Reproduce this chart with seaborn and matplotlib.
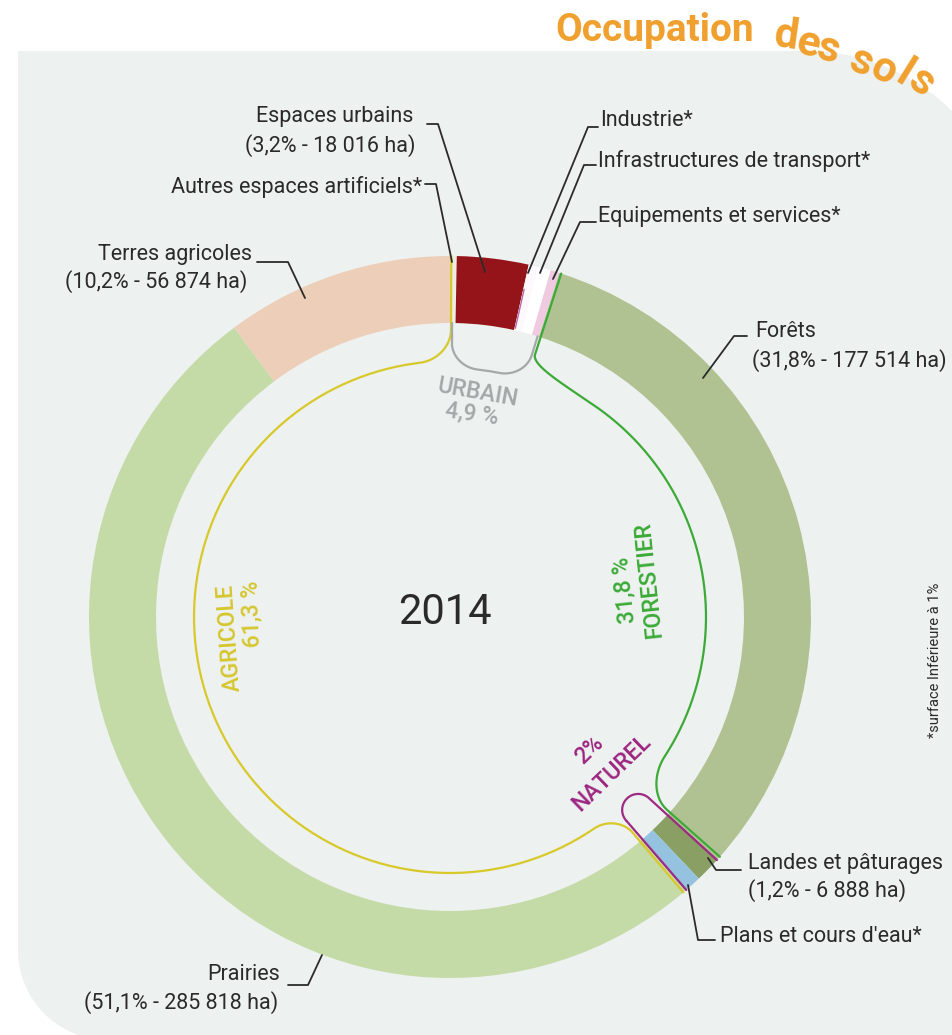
import numpy as np
import matplotlib.pyplot as plt
import seaborn as sns

# Land use values (% of area), clockwise from the top
categories = [
    "Autres espaces artificiels", "Espaces urbains", "Industrie",
    "Infrastructures de transport", "Equipements et services", "Forêts",
    "Landes et pâturages", "Plans et cours d'eau", "Prairies", "Terres agricoles",
]
shares = [0.3, 3.2, 0.4, 0.6, 0.4, 31.8, 1.2, 0.8, 51.1, 10.2]
colors = ["#EEEDE2", "#951419", "#FDF8FC", "#FFFFFF", "#F0CAE0", "#B1C292",
          "#8A9F63", "#95C3DF", "#C5DBA7", "#EDCEB9"]

sns.set_theme(style="white")
plt.rcParams["font.family"] = ["Roboto", "DejaVu Sans"]

W, H = 953, 1035
fig = plt.figure(figsize=(W / 100, H / 100), dpi=100)
ax = fig.add_axes([0, 0, 1, 1])


def P(x, y):
    # image pixel -> data coords
    return x, H - y


# background panel with rounded corners
t1 = np.radians(np.linspace(90, 0, 60))
t2 = np.radians(np.linspace(270, 180, 60))
px = [18, 807] + list(807 + 205 * np.cos(t1)) + [1012, 108] + list(108 + 90 * np.cos(t2)) + [18]
py = [984, 984] + list(779 + 205 * np.sin(t1)) + [-5, -5] + list(85 + 90 * np.sin(t2)) + [984]
ax.fill(px, py, color="#EDF1F0", lw=0, zorder=0)

CX, CY = 450, 418
R_OUT, R_IN = 361, 294
ax.pie(shares, colors=sns.color_palette(colors), startangle=90, counterclock=False,
       radius=R_OUT, center=(CX, CY),
       wedgeprops=dict(width=R_OUT - R_IN, linewidth=0))

cum = np.concatenate([[0], np.cumsum(shares)]) / np.sum(shares)
bound = 90 - 360 * cum  # boundary angles


def pol(th, r):
    th = np.radians(th)
    return CX + r * np.cos(th), CY + r * np.sin(th)


def seg(ths, rs):
    return list(zip(*pol(np.asarray(ths, float), np.asarray(rs, float))))


def radial(th, r0, r1):
    return seg([th, th], [r0, r1])


def arc(r, th0, th1):
    return seg(np.linspace(th0, th1, 200), np.full(200, r))


def corner(th0, r0, th1, r1):
    # radial at start, tangential at end
    t = np.linspace(0, 1, 40)
    return seg(th0 + (th1 - th0) * (1 - np.cos(t * np.pi / 2)),
               r0 + (r1 - r0) * np.sin(t * np.pi / 2))


def corner_r(th0, r0, th1, r1):
    return corner(th1, r1, th0, r0)[::-1]


def draw(pts, c, lw=1.6):
    xs, ys = zip(*pts)
    ax.plot(xs, ys, color=c, lw=lw, solid_capstyle="round", zorder=4)


# thin purple edge of the Industrie slice
draw(radial(bound[2] - 0.15, R_IN + 2, R_OUT - 25), "#B46AA8", lw=1.0)

# AGRICOLE bracket
a0, a1 = bound[8] - 0.4, bound[10] - 0.2
draw(radial(a0, R_OUT, 283) + corner(a0, 283, a0 - 6, 256) + arc(256, a0 - 6, a1 + 7)
     + corner_r(a1 + 7, 256, a1, 287) + radial(a1, 287, R_OUT), "#D8C92B")

# FORESTIER bracket
f0, f1 = bound[5] - 0.3, bound[6] + 0.5
draw(radial(f0, R_OUT, 276) + corner(f0, 276, 56, 256) + arc(256, 56, -33)
     + corner_r(-33, 256, f1, 290) + radial(f1, 290, R_OUT), "#3DAA38")

# URBAIN bracket
u0, u1 = bound[0] - 0.4, bound[5] + 0.3
draw(radial(u0, R_IN, 274) + corner(u0, 274, u0 - 6, 249) + arc(249, u0 - 6, u1 + 6)
     + corner_r(u1 + 6, 249, u1, 274) + radial(u1, 274, R_IN), "#A4A9A9")

# NATUREL bracket (rounded tip)
n0, n1 = bound[6] - 0.2, bound[8] + 0.2
pa, pb = np.array(pol(n0, 270)), np.array(pol(n1, 270))
c = (pa + pb) / 2
rad = np.linalg.norm(pa - pb) / 2
u = (pa - c) / rad
nv = (np.array([CX, CY]) - c) / np.linalg.norm(np.array([CX, CY]) - c)
phi = np.linspace(0, np.pi, 60)
tip = [tuple(c + rad * (u * np.cos(p) + nv * np.sin(p))) for p in phi]
draw(radial(n0, R_OUT, 270) + tip + radial(n1, 270, R_OUT), "#9E2A82")

# leader lines (image coords)
leaders = [
    [(427, 124), (438, 124), (485, 272)],
    [(425, 184), (436, 184), (452, 262)],
    [(598, 127), (588, 127), (528, 273)],
    [(596, 165), (584, 165), (540, 273)],
    [(596, 222), (580, 222), (553, 279)],
    [(257, 262), (288, 262), (305, 298)],
    [(747, 336), (734, 336), (703, 378)],
    [(741, 870), (716, 870), (708, 858)],
    [(715, 940), (698, 940), (688, 885)],
    [(288, 985), (308, 985), (322, 955)],
]
for pts in leaders:
    xs, ys = zip(*[P(*p) for p in pts])
    ax.plot(xs, ys, color="#2B2B2B", lw=1.3, zorder=5)

tc = "#2A2A2A"
fs = 15.5
labels = [
    ("Espaces urbains", 335, 116, "center"),
    ("(3,2% - 18 016 ha)", 330, 146, "center"),
    ("Autres espaces artificiels*", 297, 187, "center"),
    ("Terres agricoles", 175, 254, "center"),
    ("(10,2% - 56 874 ha)", 156, 282, "center"),
    ("Industrie*", 600, 120, "left"),
    ("Infrastructures de transport*", 598, 161, "left"),
    ("Equipements et services*", 598, 216, "left"),
    ("Forêts", 755, 331, "left"),
    ("(31,8% - 177 514 ha)", 752, 361, "left"),
    ("Landes et pâturages", 748, 864, "left"),
    ("(1,2% - 6 888 ha)", 748, 891, "left"),
    ("Plans et cours d'eau*", 720, 937, "left"),
    ("Prairies", 280, 975, "right"),
    ("(51,1% - 285 818 ha)", 278, 1003, "right"),
]
for txt, x, y, ha in labels:
    ax.text(*P(x, y), txt, ha=ha, va="center", fontsize=fs, color=tc, zorder=6)

ax.text(*P(445, 612), "2014", ha="center", va="center", fontsize=30, color=tc)

# group labels
gl = [
    ("URBAIN", 478, 393, -10, "#A2A7A7"),
    ("4,9 %", 472, 414, -8, "#A2A7A7"),
    ("AGRICOLE", 230, 638, 94, "#D5C62C"),
    ("61,3 %", 252, 614, 92, "#D5C62C"),
    ("31,8 %", 624, 590, 96, "#3AAA35"),
    ("FORESTIER", 649, 580, 96, "#3AAA35"),
    ("2%", 589, 750, 44, "#9C2580"),
    ("NATUREL", 612, 773, 44, "#9C2580"),
]
for txt, x, y, rot, col in gl:
    ax.text(*P(x, y), txt, ha="center", va="center", fontsize=16.5, color=col,
            rotation=rot, rotation_mode="anchor", fontweight="medium", zorder=6)

ax.text(*P(935, 660), "*surface Inférieure à 1%", rotation=90, ha="center", va="center",
        fontsize=10.5, color=tc)

# title
orange = "#F0A02E"
ax.text(*P(655, 30), "Occupation", ha="center", va="center", fontsize=28,
        fontweight="bold", color=orange)
for ch, x, y, rot in [("d", 786, 36, -8), ("e", 808, 44, -12), ("s", 829, 50, -15),
                      ("s", 861, 62, -22), ("o", 884, 70, -27), ("l", 904, 74, -32),
                      ("s", 922, 82, -37)]:
    ax.text(*P(x, y), ch, ha="center", va="center", fontsize=31, fontweight="bold",
            color=orange, rotation=rot, rotation_mode="anchor")

ax.set_xlim(0, W)
ax.set_ylim(0, H)
ax.set_aspect("equal")
ax.axis("off")
fig.savefig("out.png", dpi=100, facecolor="white")
